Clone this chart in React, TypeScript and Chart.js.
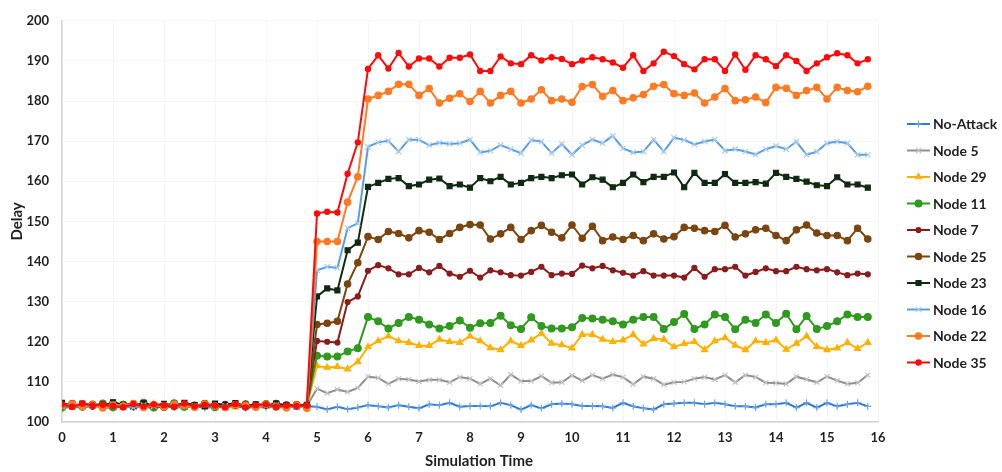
import React, { useEffect, useRef } from "react";
import { Chart, registerables } from "chart.js";
import { drawPoint } from "chart.js/helpers";

Chart.register(...registerables);

const TIMES = [
  0, 0.2, 0.4, 0.6, 0.8, 1, 1.2, 1.4, 1.6, 1.8, 2, 2.2, 2.4, 2.6, 2.8, 3, 3.2, 3.4, 3.6, 3.8,
  4, 4.2, 4.4, 4.6, 4.8, 5, 5.2, 5.4, 5.6, 5.8, 6, 6.2, 6.4, 6.6, 6.8, 7, 7.2, 7.4, 7.6, 7.8,
  8, 8.2, 8.4, 8.6, 8.8, 9, 9.2, 9.4, 9.6, 9.8, 10, 10.2, 10.4, 10.6, 10.8, 11, 11.2, 11.4, 11.6, 11.8,
  12, 12.2, 12.4, 12.6, 12.8, 13, 13.2, 13.4, 13.6, 13.8, 14, 14.2, 14.4, 14.6, 14.8, 15, 15.2, 15.4, 15.6, 15.8,
];

const SERIES_NAMES = ["No-Attack", "Node 5", "Node 29", "Node 11", "Node 7", "Node 25", "Node 23", "Node 16", "Node 22", "Node 35"];

const noAttack = [
  103.5, 103.8, 103.6, 104.0, 103.7, 103.5, 103.9, 103.6, 103.8, 103.4, 103.9, 103.7, 103.6, 104.0, 103.5, 103.8, 103.7, 103.9, 103.5, 103.8, 103.6, 103.9, 103.7, 103.8, 103.9,
  103.8, 103.1, 103.8, 103.2, 103.6, 104.2, 103.9, 103.6, 104.2, 103.8, 103.4, 104.4, 104.2, 104.8, 103.8, 104.0, 104.0, 103.9, 104.8, 104.2, 103.1, 104.2, 103.4, 104.4, 104.6, 104.4, 104.0,
  104.0, 103.9, 103.5, 104.8, 103.9, 103.4, 103.1, 104.4, 104.6, 104.8, 104.8, 104.4, 104.8, 104.4, 103.9, 103.9, 103.6, 104.4, 104.4, 104.8, 103.6, 104.8, 103.6, 104.8, 103.9, 104.4, 104.8, 103.9,
];
const node5 = [
  104.0, 103.7, 104.2, 103.9, 104.3, 103.8, 104.1, 104.0, 103.7, 104.2, 103.9, 104.1, 103.8, 104.2, 104.0, 103.7, 104.1, 103.9, 104.2, 103.8, 104.0, 103.9, 104.1, 103.8, 104.0,
  108.3, 107.2, 108.1, 107.5, 108.5, 111.3, 111.0, 109.5, 110.8, 110.6, 110.1, 110.5, 110.5, 109.9, 111.2, 110.8, 109.5, 110.8, 109.1, 111.8, 110.2, 110.2, 111.4, 109.8, 109.9, 111.6, 110.3,
  111.7, 110.8, 111.8, 111.2, 109.4, 111.3, 110.8, 109.3, 109.9, 110.0, 110.8, 111.2, 110.6, 111.7, 109.9, 111.7, 111.2, 109.8, 109.7, 109.5, 111.3, 110.6, 109.9, 111.3, 110.3, 109.5, 109.8, 111.7,
];
const node29 = [
  104.3, 103.9, 104.5, 104.0, 104.2, 103.6, 104.4, 104.1, 103.8, 104.5, 104.0, 104.3, 103.7, 104.2, 104.4, 103.9, 104.1, 103.7, 104.3, 104.0, 103.8, 104.2, 103.9, 104.1, 103.9,
  114.0, 113.6, 113.8, 113.2, 115.0, 118.7, 120.2, 121.4, 120.2, 119.8, 119.0, 119.0, 120.6, 120.0, 119.8, 121.4, 120.2, 118.5, 118.0, 120.2, 119.0, 120.4, 122.1, 119.6, 119.2, 118.4, 121.8,
  121.8, 120.6, 120.0, 120.4, 121.8, 119.4, 120.8, 120.6, 118.7, 119.5, 120.0, 118.0, 120.2, 121.0, 119.1, 118.0, 120.2, 119.8, 120.4, 118.1, 119.6, 121.4, 118.8, 118.0, 118.4, 119.8, 118.3, 119.8,
];
const node11 = [
  103.6, 104.4, 103.8, 104.2, 104.6, 103.7, 104.3, 103.9, 104.8, 103.6, 104.2, 104.7, 103.8, 104.1, 104.5, 103.7, 104.0, 104.4, 103.9, 104.2, 104.5, 103.8, 104.1, 104.3, 104.0,
  116.5, 116.3, 116.3, 117.6, 118.4, 126.2, 125.1, 123.3, 124.7, 126.2, 125.5, 124.3, 123.3, 123.9, 125.3, 123.5, 124.6, 124.7, 126.5, 124.1, 123.2, 126.1, 123.9, 123.3, 123.3, 123.6, 125.9,
  125.8, 125.5, 125.1, 124.3, 125.5, 126.2, 126.2, 123.2, 124.9, 126.9, 123.2, 124.3, 126.8, 126.2, 123.1, 125.5, 124.7, 126.8, 124.7, 127.0, 123.1, 126.4, 123.2, 123.9, 125.1, 126.8, 126.2, 126.2,
];
const node7 = [
  104.6, 104.1, 104.3, 103.8, 104.5, 104.0, 104.2, 104.7, 103.9, 104.4, 104.1, 103.7, 104.6, 104.0, 104.3, 103.8, 104.5, 104.1, 103.9, 104.4, 104.2, 103.8, 104.4, 104.0, 104.2,
  120.2, 120.0, 119.8, 129.9, 131.3, 137.7, 139.1, 138.3, 136.8, 136.8, 138.4, 137.3, 138.9, 137.0, 136.2, 137.7, 136.0, 137.8, 137.3, 136.6, 136.5, 137.4, 138.7, 136.6, 137.0, 136.9, 139.0,
  138.3, 138.9, 137.8, 137.2, 136.5, 137.6, 136.5, 136.5, 136.5, 136.0, 138.4, 136.2, 138.1, 138.1, 138.7, 136.5, 137.4, 138.3, 137.6, 137.6, 138.7, 138.1, 137.8, 138.1, 137.3, 136.6, 137.0, 136.8,
];
const node25 = [
  104.2, 104.6, 103.9, 104.4, 104.0, 104.7, 103.8, 104.3, 104.5, 104.0, 103.7, 104.4, 104.2, 103.9, 104.6, 104.1, 103.8, 104.3, 104.5, 103.9, 104.2, 104.6, 103.8, 104.3, 104.1,
  124.3, 124.6, 125.1, 134.4, 139.7, 146.2, 145.5, 147.5, 147.0, 145.9, 147.7, 147.3, 145.5, 147.0, 148.5, 149.2, 149.1, 145.6, 146.9, 148.5, 145.5, 147.7, 149.0, 147.3, 145.9, 149.1, 145.8,
  148.8, 145.2, 146.1, 145.5, 146.5, 145.2, 146.9, 145.6, 146.2, 148.5, 148.3, 147.7, 147.5, 149.0, 146.1, 146.9, 147.9, 148.3, 146.5, 145.2, 147.9, 149.1, 147.1, 146.5, 146.5, 145.2, 148.3, 145.6,
];
const node23 = [
  104.8, 103.9, 104.6, 104.2, 104.0, 104.9, 104.3, 103.8, 104.7, 104.1, 104.5, 104.0, 104.8, 104.2, 103.9, 104.6, 104.3, 104.7, 103.9, 104.4, 104.0, 104.6, 104.2, 103.9, 104.3,
  131.3, 133.3, 132.8, 142.8, 144.7, 158.6, 159.6, 160.6, 160.8, 158.8, 159.2, 160.4, 160.7, 158.8, 159.2, 158.4, 160.8, 160.0, 161.1, 159.2, 159.6, 160.8, 161.1, 160.8, 161.5, 161.7, 159.2,
  161.0, 160.4, 158.5, 159.6, 161.7, 159.8, 161.1, 161.1, 162.2, 158.5, 162.1, 159.6, 159.6, 161.8, 159.6, 159.6, 159.8, 159.4, 162.1, 161.1, 160.6, 159.9, 159.0, 158.8, 161.0, 159.2, 159.2, 158.4,
];
const node16 = [
  103.9, 104.3, 103.7, 104.1, 103.8, 104.4, 104.0, 103.6, 104.2, 103.9, 104.3, 103.7, 104.1, 103.9, 104.4, 103.8, 104.0, 104.3, 103.7, 104.1, 103.9, 104.2, 103.8, 104.0, 103.9,
  137.8, 138.7, 138.4, 148.3, 149.5, 168.6, 169.7, 170.1, 167.4, 170.4, 170.3, 169.0, 169.6, 169.3, 169.5, 170.4, 167.2, 167.6, 169.0, 168.0, 167.0, 170.3, 169.9, 167.0, 169.3, 166.6, 169.0,
  170.4, 169.5, 171.3, 168.2, 167.2, 167.4, 170.4, 167.4, 170.9, 170.3, 169.2, 169.9, 170.4, 167.6, 168.0, 167.4, 166.7, 168.0, 168.8, 168.0, 169.9, 166.6, 167.4, 169.5, 169.9, 169.5, 166.6, 166.6,
];
const node22 = [
  104.1, 104.5, 103.9, 104.3, 103.5, 104.2, 104.0, 104.6, 103.6, 104.3, 103.8, 104.4, 104.1, 103.7, 104.5, 104.0, 103.6, 104.3, 104.1, 103.7, 104.4, 103.9, 103.5, 104.2, 103.4,
  145.0, 145.0, 145.0, 154.8, 161.1, 180.5, 181.4, 182.4, 184.2, 184.2, 181.4, 183.1, 179.5, 180.7, 181.8, 179.9, 182.4, 179.5, 181.4, 182.4, 179.5, 180.5, 182.8, 180.1, 180.5, 179.7, 183.6,
  184.1, 181.2, 182.6, 180.1, 180.8, 181.6, 183.7, 184.1, 181.8, 181.4, 182.0, 179.5, 181.0, 183.1, 180.1, 180.3, 181.0, 179.6, 183.4, 183.2, 181.4, 182.6, 183.4, 180.5, 183.4, 182.6, 182.3, 183.7,
];
const node35 = [
  104.4, 103.8, 104.6, 104.1, 104.3, 104.0, 103.7, 104.5, 103.9, 104.4, 104.2, 103.8, 104.6, 103.9, 104.3, 104.1, 103.7, 104.5, 103.6, 104.2, 104.4, 103.8, 104.1, 104.0, 104.1,
  152.0, 152.4, 152.2, 161.9, 169.7, 188.0, 191.4, 188.1, 192.0, 188.6, 190.6, 190.6, 188.6, 190.8, 190.8, 191.6, 187.5, 187.5, 191.1, 189.4, 189.2, 191.4, 190.1, 190.9, 190.5, 189.2, 190.1,
  190.9, 190.4, 189.6, 188.3, 191.4, 187.5, 189.4, 192.3, 191.2, 189.2, 187.9, 190.4, 190.4, 187.5, 191.6, 187.8, 191.4, 190.4, 188.7, 191.4, 190.0, 187.5, 189.4, 190.9, 191.9, 191.4, 189.4, 190.4,
];

const SERIES_VALUES = [noAttack, node5, node29, node11, node7, node25, node23, node16, node22, node35];

const LINE_COLORS = ["#2e78d2", "#8e8e8e", "#ffb000", "#2f9a1e", "#8a1c1c", "#7b4510", "#102a10", "#5b9ee0", "#ff7a21", "#ff0a0a"];
const MARKER_COLORS = ["#6aa5e6", "#c4c4c4", "#ffb000", "#2f9a1e", "#8a1c1c", "#7b4510", "#102a10", "#a9cdf2", "#ff7a21", "#ff0a0a"];
const MARKER_STYLES = ["cross", "crossRot", "triangle", "circle", "circle", "circle", "rect", "crossRot", "circle", "circle"];
const MARKER_RADII = [3.5, 3.5, 3.5, 3.4, 2.5, 3.2, 3.5, 3.8, 3.2, 2.6];

const FONT = "Lato, 'Open Sans', sans-serif";
const TEXT_COLOR = "#1f1f1f";

const legendPlugin = {
  id: "sideLegend",
  afterDraw(chart: any) {
    const ctx = chart.ctx;
    ctx.save();
    chart.data.datasets.forEach((ds: any, i: number) => {
      const y = 124 + i * 26.5;
      ctx.strokeStyle = ds.borderColor;
      ctx.lineWidth = 2;
      ctx.beginPath();
      ctx.moveTo(907, y);
      ctx.lineTo(930, y);
      ctx.stroke();
      ctx.fillStyle = ds.pointBackgroundColor;
      ctx.strokeStyle = ds.pointBorderColor;
      ctx.lineWidth = 1.2;
      drawPoint(ctx, { pointStyle: ds.pointStyle, radius: ds.pointRadius, borderWidth: 1.2, rotation: 0 }, 918.5, y);
      ctx.fillStyle = TEXT_COLOR;
      ctx.font = `bold 14px ${FONT}`;
      ctx.textBaseline = "middle";
      ctx.textAlign = "left";
      ctx.fillText(ds.label, 933, y + 0.5);
    });
    ctx.font = `bold 15px ${FONT}`;
    ctx.textAlign = "center";
    ctx.textBaseline = "middle";
    ctx.fillStyle = TEXT_COLOR;
    ctx.fillText("Simulation Time", 479, 461);
    ctx.restore();
  },
};

export default function App() {
  const canvasRef = useRef<HTMLCanvasElement | null>(null);

  useEffect(() => {
    if (!canvasRef.current) return;
    const datasets = SERIES_NAMES.map((name, i) => ({
      label: name,
      data: SERIES_VALUES[i].map((v, j) => ({ x: TIMES[j], y: v })),
      borderColor: LINE_COLORS[i],
      backgroundColor: LINE_COLORS[i],
      borderWidth: 2,
      pointStyle: MARKER_STYLES[i],
      pointRadius: MARKER_RADII[i],
      pointBackgroundColor: MARKER_COLORS[i],
      pointBorderColor: MARKER_COLORS[i],
      pointBorderWidth: 1.2,
      tension: 0,
      fill: false,
      order: SERIES_NAMES.length - i,
    }));

    const chart = new Chart(canvasRef.current, {
      type: "line",
      data: { datasets },
      options: {
        animation: false,
        responsive: false,
        devicePixelRatio: 1,
        layout: { padding: { left: 0, top: 16, right: 124, bottom: 0 } },
        plugins: { legend: { display: false }, tooltip: { enabled: false } },
        scales: {
          x: {
            type: "linear",
            min: 0,
            max: 16,
            ticks: { stepSize: 1, color: TEXT_COLOR, font: { family: FONT, size: 13, weight: "bold" }, padding: 8 },
            grid: { color: "#f5f5f5", drawTicks: false },
            border: { color: "#d4d4d4", width: 1.5 },
            afterFit: (s: any) => { s.height = 50; },
          },
          y: {
            min: 100,
            max: 200,
            ticks: { stepSize: 10, color: TEXT_COLOR, font: { family: FONT, size: 13, weight: "bold" }, padding: 13 },
            grid: { color: "#f5f5f5", drawTicks: false },
            border: { color: "#d4d4d4", width: 1.5 },
            title: { display: true, text: "Delay", color: TEXT_COLOR, font: { family: FONT, size: 15, weight: "bold" }, padding: { top: 8, bottom: 0 } },
            afterFit: (s: any) => { s.width = 62; },
          },
        },
      },
      plugins: [legendPlugin],
    } as any);
    return () => chart.destroy();
  }, []);

  return (
    <div style={{ position: "absolute", left: 0, top: 0, width: 1002, height: 472, background: "#fff" }}>
      <canvas ref={canvasRef} width={1002} height={472} />
    </div>
  );
}
